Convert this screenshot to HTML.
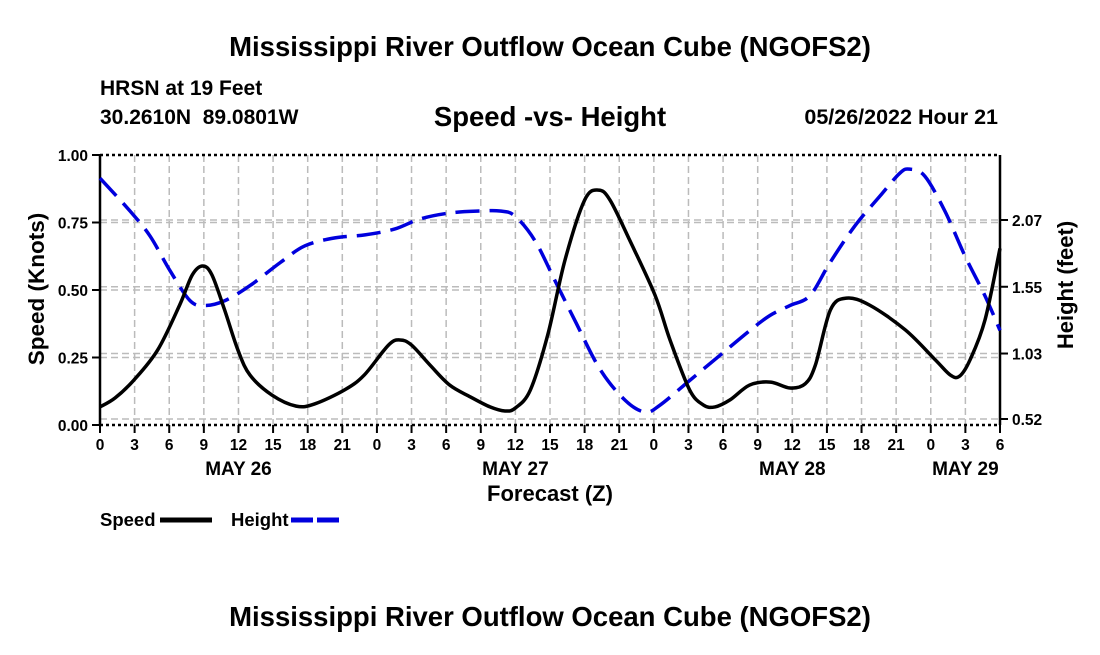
<!DOCTYPE html>
<html><head><meta charset="utf-8"><style>
body{margin:0;background:#fff;}
svg text{font-family:"Liberation Sans",Arial,sans-serif;font-weight:bold;fill:#000;}
</style></head><body>
<svg width="1100" height="650" viewBox="0 0 1100 650">
<text x="550" y="56" font-size="27.5" text-anchor="middle">Mississippi River Outflow Ocean Cube (NGOFS2)</text>
<text x="100" y="95" font-size="21">HRSN at 19 Feet</text>
<text x="100" y="124" font-size="21" xml:space="preserve">30.2610N  89.0801W</text>
<text x="550" y="126" font-size="27.5" text-anchor="middle">Speed -vs- Height</text>
<text x="998" y="124" font-size="21.5" text-anchor="end">05/26/2022 Hour 21</text>
<g id="grid"></g>
<g id="axes"></g>
<g id="series"></g>
<text transform="translate(44,289) rotate(-90)" font-size="22.5" text-anchor="middle">Speed (Knots)</text>
<text transform="translate(1073,285) rotate(-90)" font-size="22" text-anchor="middle">Height (feet)</text>
<text x="550" y="501" font-size="22" text-anchor="middle">Forecast (Z)</text>
<text x="100" y="526" font-size="18.5">Speed</text>
<line x1="160" y1="520" x2="212" y2="520" stroke="#000" stroke-width="5"/>
<text x="231" y="526" font-size="18.5">Height</text>
<line x1="291" y1="520" x2="343" y2="520" stroke="#0000dd" stroke-width="5" stroke-dasharray="22,4"/>
<text x="550" y="626" font-size="27.5" text-anchor="middle">Mississippi River Outflow Ocean Cube (NGOFS2)</text>
</svg>
<script>
const speedHours=[0,1.3,2.95,5,6.9,8,8.9,9.7,10.8,11.95,13,14.9,17,18.6,21.2,22.9,25,26,27,28.6,30.3,32.1,33.8,35.1,36,37.3,38.8,40.3,42,43.2,44.2,45.9,48.1,49.4,51.1,52.3,53.3,54.6,56.3,58.1,59.8,61.1,62,63.3,64.7,66.7,69.8,72.4,73.7,74.5,75.4,76.7,78];
const speedValues=[.067,.1,.167,.278,.444,.556,.589,.556,.426,.278,.185,.111,.07,.078,.13,.185,.296,.315,.296,.222,.148,.104,.067,.052,.063,.13,.333,.611,.833,.87,.833,.685,.481,.315,.13,.074,.067,.093,.148,.159,.137,.152,.222,.426,.47,.444,.352,.241,.185,.181,.241,.389,.654];
const heightHours=[0,2.6,4.33,6.07,7.8,9.1,10.83,13,15.6,17.76,20.36,22.96,25.56,27.73,30.33,32.93,34.66,35.96,37.7,39.43,41.16,43.33,45.5,47.23,48.53,51.13,53.73,56.33,58.06,59.79,61.53,63.26,65.42,67.59,69.32,70.19,71.49,73.22,74.96,76.69,78];
const heightValues=[2.396,2.14,1.946,1.675,1.442,1.404,1.442,1.559,1.737,1.869,1.931,1.954,2.0,2.078,2.125,2.14,2.14,2.101,1.908,1.598,1.287,0.908,0.667,0.574,0.628,0.822,1.016,1.21,1.326,1.404,1.481,1.737,2.024,2.256,2.435,2.466,2.411,2.14,1.791,1.481,1.21];
const speedTicks=[0,0.25,0.5,0.75,1.0];
const speedTickLabels=["0.00","0.25","0.50","0.75","1.00"];
const heightTicks=[0.52,1.03,1.55,2.07];
const heightTickLabels=["0.52","1.03","1.55","2.07"];
const xTickLabels=["0","3","6","9","12","15","18","21","0","3","6","9","12","15","18","21","0","3","6","9","12","15","18","21","0","3","6"];
const dayLabels=["MAY 26","MAY 27","MAY 28","MAY 29"];
const dayLabelHours=[12,36,60,75];

const X0=100,X1=1000,Y0=425,Y1=155,HMAX=78;
const xs=h=>X0+(X1-X0)*h/HMAX;
const ys=s=>Y0-(Y0-Y1)*s;
const yh=f=>419-(f-0.52)*(419-220)/(2.07-0.52);
const NS="http://www.w3.org/2000/svg";
function mk(tag,attrs,parent){const e=document.createElementNS(NS,tag);for(const k in attrs)e.setAttribute(k,attrs[k]);parent.appendChild(e);return e;}
const grid=document.getElementById('grid'),axes=document.getElementById('axes'),series=document.getElementById('series');
xTickLabels.forEach((l,i)=>{const x=xs(i*3);
 if(i>0&&i<xTickLabels.length-1){const g=mk('line',{x1:x,y1:Y1,x2:x,y2:Y0,stroke:'#bbb','stroke-width':1.5,'stroke-dasharray':'7,4'},grid);
 
 }
 const t=mk('line',{x1:x,y1:Y0,x2:x,y2:Y0+8,stroke:'#000','stroke-width':2},axes);
 
 
 const tx=mk('text',{x:x,y:450,'font-size':15.5,'text-anchor':'middle'},axes);tx.textContent=l;
 
 
});
dayLabels.forEach((l,i)=>{const t=mk('text',{x:xs(dayLabelHours[i]),y:475,'font-size':19,'text-anchor':'middle'},axes);t.textContent=l;
 
 });
speedTicks.forEach((v,i)=>{const y=ys(v);
 if(v>0&&v<1){const g=mk('line',{x1:X0,y1:y,x2:X1,y2:y,stroke:'#bbb','stroke-width':1.5,'stroke-dasharray':'7,4'},grid);
 
 }
 const t=mk('line',{x1:X0-8,y1:y,x2:X0,y2:y,stroke:'#000','stroke-width':2},axes);
 
 
 const tx=mk('text',{x:88,y:y+6,'font-size':15.5,'text-anchor':'end'},axes);tx.textContent=speedTickLabels[i];
 
 
});
heightTicks.forEach((v,i)=>{const y=yh(v);
 const g=mk('line',{x1:X0,y1:y,x2:X1,y2:y,stroke:'#bbb','stroke-width':1.5,'stroke-dasharray':'7,4'},grid);
 
 
 const t=mk('line',{x1:X1,y1:y,x2:X1+8,y2:y,stroke:'#000','stroke-width':2},axes);
 
 
 const tx=mk('text',{x:1012,y:y+6,'font-size':15.5},axes);tx.textContent=heightTickLabels[i];
 
 
});
[[X0,Y1,X0,Y0,''],[X1,Y1,X1,Y0,''],[X0,Y1,X1,Y1,'3,3'],[X0,Y0,X1,Y0,'3,3']].forEach(a=>{
 const l=mk('line',{x1:a[0],y1:a[1],x2:a[2],y2:a[3],stroke:'#000','stroke-width':2.5,'stroke-dasharray':a[4]},axes);
 
 });
function smooth(pts){let d=`M${pts[0][0]},${pts[0][1]}`;
 for(let i=0;i<pts.length-1;i++){const p0=pts[i-1]||pts[i],p1=pts[i],p2=pts[i+1],p3=pts[i+2]||p2;
  d+=` C${p1[0]+(p2[0]-p0[0])/6},${p1[1]+(p2[1]-p0[1])/6} ${p2[0]-(p3[0]-p1[0])/6},${p2[1]-(p3[1]-p1[1])/6} ${p2[0]},${p2[1]}`;}
 return d;}
const hp=mk('path',{d:smooth(heightHours.map((h,i)=>[xs(h),yh(heightValues[i])])),fill:'none',stroke:'#0000dd','stroke-width':3.5,'stroke-dasharray':'24,10'},series);


const sp=mk('path',{d:smooth(speedHours.map((h,i)=>[xs(h),ys(speedValues[i])])),fill:'none',stroke:'#000','stroke-width':3.5},series);


</script>
</body></html>
